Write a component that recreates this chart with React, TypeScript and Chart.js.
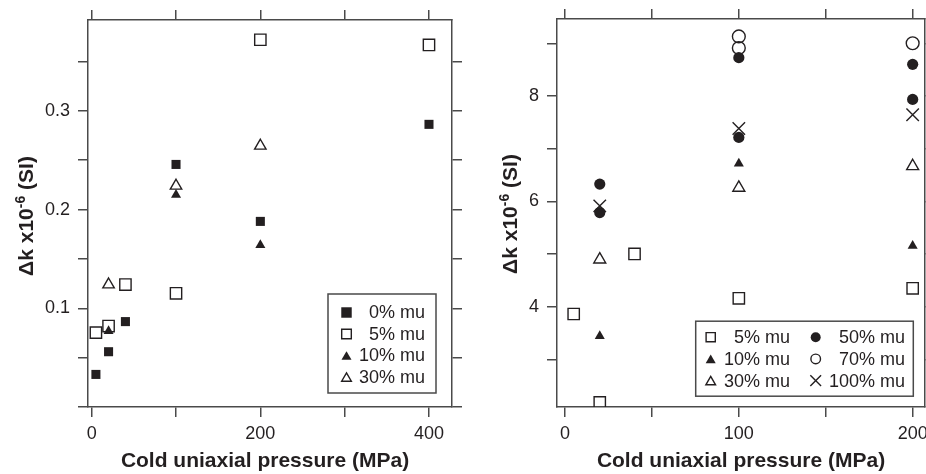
import React, { useEffect, useRef } from 'react';
import { Chart, registerables } from 'chart.js';

Chart.register(...registerables);

// ---------------- Left panel ----------------
const leftXTicks = [0, 100, 200, 300, 400];
const leftXLabels = [0, 200, 400];
const leftYTicks = [0, 0.05, 0.1, 0.15, 0.2, 0.25, 0.3, 0.35];
const leftYLabels = [0.1, 0.2, 0.3];

const mu0X = [5, 20, 40, 100, 200, 400];
const mu0Y = [0.033, 0.056, 0.0865, 0.2457, 0.188, 0.2863];
const mu5X = [5, 20, 40, 100, 200, 400];
const mu5Y = [0.0753, 0.082, 0.124, 0.1152, 0.372, 0.3667];
const mu10X = [20, 100, 200];
const mu10Y = [0.077, 0.215, 0.164];
const mu30X = [20, 100, 200];
const mu30Y = [0.124, 0.224, 0.2645];

// ---------------- Right panel ----------------
const rightXTicks = [0, 50, 100, 150, 200];
const rightXLabels = [0, 100, 200];
const rightYTicks = [3, 4, 5, 6, 7, 8, 9];
const rightYLabels = [4, 6, 8];

const r5X = [5, 20, 40, 100, 200];
const r5Y = [3.867, 2.19, 5.006, 4.165, 4.355];
const r10X = [20, 100, 200];
const r10Y = [3.45, 6.72, 5.16];
const r30X = [20, 100, 200];
const r30Y = [4.9, 6.26, 6.67];
const r50X = [20, 20, 100, 100, 200, 200];
const r50Y = [6.33, 5.79, 8.727, 7.215, 8.6, 7.936];
const r70X = [100, 100, 200];
const r70Y = [9.13, 8.91, 9.0];
const r100X = [20, 100, 200];
const r100Y = [5.917, 7.385, 7.645];

const xTitleText = 'Cold uniaxial pressure (MPa)';
const yTitleMain = 'Δk x10';
const yTitleSup = '-6';
const yTitleEnd = ' (SI)';

const FONT = '"Liberation Sans", Arial, Helvetica, sans-serif';
const INK = '#231f20';
const LINE = '#4a4a4a';
const CLEAR = 'rgba(0,0,0,0)';

const pts = (xs: number[], ys: number[]) => xs.map((x, i) => ({ x, y: ys[i] }));

function drawMarker(ctx: CanvasRenderingContext2D, style: string, r: number, x: number, y: number, fill: string, stroke: string, lw: number) {
  ctx.beginPath();
  if (style === 'rect') {
    const s = r * Math.SQRT1_2;
    ctx.rect(x - s, y - s, 2 * s, 2 * s);
  } else if (style === 'triangle') {
    ctx.moveTo(x, y - r);
    ctx.lineTo(x + 0.866 * r, y + 0.5 * r);
    ctx.lineTo(x - 0.866 * r, y + 0.5 * r);
    ctx.closePath();
  } else if (style === 'circle') {
    ctx.arc(x, y, r, 0, Math.PI * 2);
    ctx.closePath();
  } else if (style === 'crossRot') {
    const d = r * Math.SQRT1_2;
    ctx.moveTo(x - d, y - d);
    ctx.lineTo(x + d, y + d);
    ctx.moveTo(x - d, y + d);
    ctx.lineTo(x + d, y - d);
  }
  if (style !== 'crossRot' && fill !== CLEAR) {
    ctx.fillStyle = fill;
    ctx.fill();
  }
  if (lw > 0) {
    ctx.lineWidth = lw;
    ctx.strokeStyle = stroke;
    ctx.stroke();
  }
}

const decorPlugin = {
  id: 'panelDecor',
  afterDraw(chart: any, _args: any, opts: any) {
    const ctx: CanvasRenderingContext2D = chart.ctx;
    const ca = chart.chartArea;
    ctx.save();
    ctx.fillStyle = INK;
    // x title
    ctx.font = `bold 21px ${FONT}`;
    ctx.textAlign = 'center';
    ctx.textBaseline = 'alphabetic';
    ctx.fillText(xTitleText, (ca.left + ca.right) / 2 + opts.xTitleDx, opts.xTitleY);
    // y title with superscript
    ctx.save();
    ctx.translate(opts.yTitleX, opts.yTitleY);
    ctx.rotate(-Math.PI / 2);
    ctx.textAlign = 'left';
    const mainFont = `bold 21px ${FONT}`;
    const supFont = `bold 14px ${FONT}`;
    ctx.font = mainFont;
    const w1 = ctx.measureText(yTitleMain).width;
    const w3 = ctx.measureText(yTitleEnd).width;
    ctx.font = supFont;
    const w2 = ctx.measureText(yTitleSup).width;
    let x0 = -(w1 + w2 + w3) / 2;
    ctx.font = mainFont;
    ctx.fillText(yTitleMain, x0, 0);
    x0 += w1;
    ctx.font = supFont;
    ctx.fillText(yTitleSup, x0, -8);
    x0 += w2;
    ctx.font = mainFont;
    ctx.fillText(yTitleEnd, x0, 0);
    ctx.restore();

    // legend
    const lg = opts.legend;
    const bx = ca.right - lg.right - lg.width;
    const by = ca.bottom - lg.bottom - lg.height;
    ctx.fillStyle = '#ffffff';
    ctx.fillRect(bx, by, lg.width, lg.height);
    ctx.lineWidth = 1.5;
    ctx.strokeStyle = LINE;
    ctx.strokeRect(bx, by, lg.width, lg.height);
    ctx.font = `18px ${FONT}`;
    ctx.textAlign = 'right';
    ctx.textBaseline = 'middle';
    chart.data.datasets.forEach((ds: any, i: number) => {
      const col = Math.floor(i / lg.rows);
      const row = i % lg.rows;
      const c = lg.cols[col];
      const cy = by + lg.firstRow + row * lg.rowH;
      const off = ds.pointStyle === 'triangle' ? ds.legendRadius * 0.25 : 0;
      drawMarker(ctx, ds.pointStyle, ds.legendRadius, bx + c.markerX, cy + off, ds.pointBackgroundColor, ds.pointBorderColor, ds.pointBorderWidth);
      ctx.fillStyle = INK;
      ctx.fillText(ds.label, bx + c.textRight, cy + 1);
    });
    ctx.restore();
  },
};

function makeScale(axis: 'x' | 'y', position: string, min: number, max: number, ticks: number[], labels: number[], size: number, showLabels: boolean, pad: number) {
  return {
    type: 'linear',
    axis,
    position,
    min,
    max,
    afterBuildTicks: (s: any) => {
      s.ticks = ticks.map((v) => ({ value: v }));
    },
    afterFit: (s: any) => {
      if (axis === 'x') s.height = size;
      else s.width = size;
    },
    ticks: {
      display: showLabels,
      autoSkip: false,
      maxRotation: 0,
      minRotation: 0,
      padding: pad,
      color: INK,
      font: { family: FONT, size: 18 },
      callback: (v: number) => (labels.some((l) => Math.abs(l - v) < 1e-9) ? String(v) : ''),
    },
    grid: {
      drawOnChartArea: false,
      drawTicks: true,
      tickLength: 10,
      tickWidth: 1.5,
      tickColor: LINE,
      color: LINE,
      lineWidth: 1.5,
    },
    border: { display: true, color: LINE, width: 1.5 },
  };
}

const filled = (label: string, style: string, xs: number[], ys: number[], r: number, lr: number) => ({
  label,
  data: pts(xs, ys),
  pointStyle: style,
  pointRadius: r,
  pointHoverRadius: r,
  pointBackgroundColor: INK,
  pointBorderColor: INK,
  pointBorderWidth: 0,
  legendRadius: lr,
  showLine: false,
});

const open = (label: string, style: string, xs: number[], ys: number[], r: number, lr: number) => ({
  label,
  data: pts(xs, ys),
  pointStyle: style,
  pointRadius: r,
  pointHoverRadius: r,
  pointBackgroundColor: CLEAR,
  pointBorderColor: INK,
  pointBorderWidth: 1.4,
  legendRadius: lr,
  showLine: false,
});

function leftConfig(): any {
  return {
    type: 'scatter',
    data: {
      datasets: [
        filled('0% mu', 'rect', mu0X, mu0Y, 6.4, 7.4),
        open('5% mu', 'rect', mu5X, mu5Y, 8.0, 6.8),
        filled('10% mu', 'triangle', mu10X, mu10Y, 5.8, 5.8),
        open('30% mu', 'triangle', mu30X, mu30Y, 6.6, 5.6),
      ],
    },
    options: {
      responsive: false,
      animation: false,
      events: [],
      layout: { padding: 0 },
      scales: {
        x: makeScale('x', 'bottom', -4.39, 427.3, leftXTicks, leftXLabels, 67, true, 6),
        x2: makeScale('x', 'top', -4.39, 427.3, leftXTicks, [], 20, false, 0),
        y: makeScale('y', 'left', 0, 0.392, leftYTicks, leftYLabels, 88, true, 8),
        y2: makeScale('y', 'right', 0, 0.392, leftYTicks, [], 13, false, 0),
      },
      plugins: {
        legend: { display: false },
        tooltip: { enabled: false },
        panelDecor: {
          xTitleDx: -5,
          xTitleY: 467,
          yTitleX: 33,
          yTitleY: 216,
          legend: {
            right: 16,
            bottom: 14,
            width: 108,
            height: 99,
            rows: 4,
            firstRow: 18.5,
            rowH: 21.5,
            cols: [{ markerX: 18.5, textRight: 97 }],
          },
        },
      },
    },
    plugins: [decorPlugin],
  };
}

function rightConfig(): any {
  return {
    type: 'scatter',
    data: {
      datasets: [
        open('5% mu', 'rect', r5X, r5Y, 8.0, 6.5),
        filled('10% mu', 'triangle', r10X, r10Y, 5.8, 5.8),
        open('30% mu', 'triangle', r30X, r30Y, 6.9, 5.6),
        filled('50% mu', 'circle', r50X, r50Y, 5.6, 5.0),
        open('70% mu', 'circle', r70X, r70Y, 6.4, 4.8),
        open('100% mu', 'crossRot', r100X, r100Y, 8.8, 7.6),
      ],
    },
    options: {
      responsive: false,
      animation: false,
      events: [],
      layout: { padding: 0 },
      scales: {
        x: makeScale('x', 'bottom', -4.6, 207.1, rightXTicks, rightXLabels, 67, true, 6),
        x2: makeScale('x', 'top', -4.6, 207.1, rightXTicks, [], 19, false, 0),
        y: makeScale('y', 'left', 2.104, 9.46, rightYTicks, rightYLabels, 92, true, 8),
        y2: makeScale('y', 'right', 2.104, 9.46, rightYTicks, [], 35, false, 0),
      },
      plugins: {
        legend: { display: false },
        tooltip: { enabled: false },
        panelDecor: {
          xTitleDx: 0,
          xTitleY: 467,
          yTitleX: 51.7,
          yTitleY: 214,
          legend: {
            right: 11.7,
            bottom: 10.8,
            width: 217.6,
            height: 75,
            rows: 3,
            firstRow: 16,
            rowH: 21.7,
            cols: [
              { markerX: 15, textRight: 94.3 },
              { markerX: 120, textRight: 209.3 },
            ],
          },
        },
      },
    },
    plugins: [decorPlugin],
  };
}

function Panel({ makeConfig, left, width }: { makeConfig: () => any; left: number; width: number }) {
  const ref = useRef<HTMLCanvasElement | null>(null);
  useEffect(() => {
    if (!ref.current) return;
    const chart = new Chart(ref.current, makeConfig());
    return () => chart.destroy();
  }, [makeConfig]);
  return (
    <canvas
      ref={ref}
      width={width}
      height={474}
      style={{ position: 'absolute', left, top: 0, width, height: 474, display: 'block' }}
    />
  );
}

export default function App() {
  return (
    <div
      style={{
        position: 'fixed',
        left: 0,
        top: 0,
        width: 926,
        height: 474,
        overflow: 'hidden',
        background: '#ffffff',
      }}
    >
      <Panel makeConfig={leftConfig} left={0} width={465} />
      <Panel makeConfig={rightConfig} left={465} width={495} />
    </div>
  );
}
